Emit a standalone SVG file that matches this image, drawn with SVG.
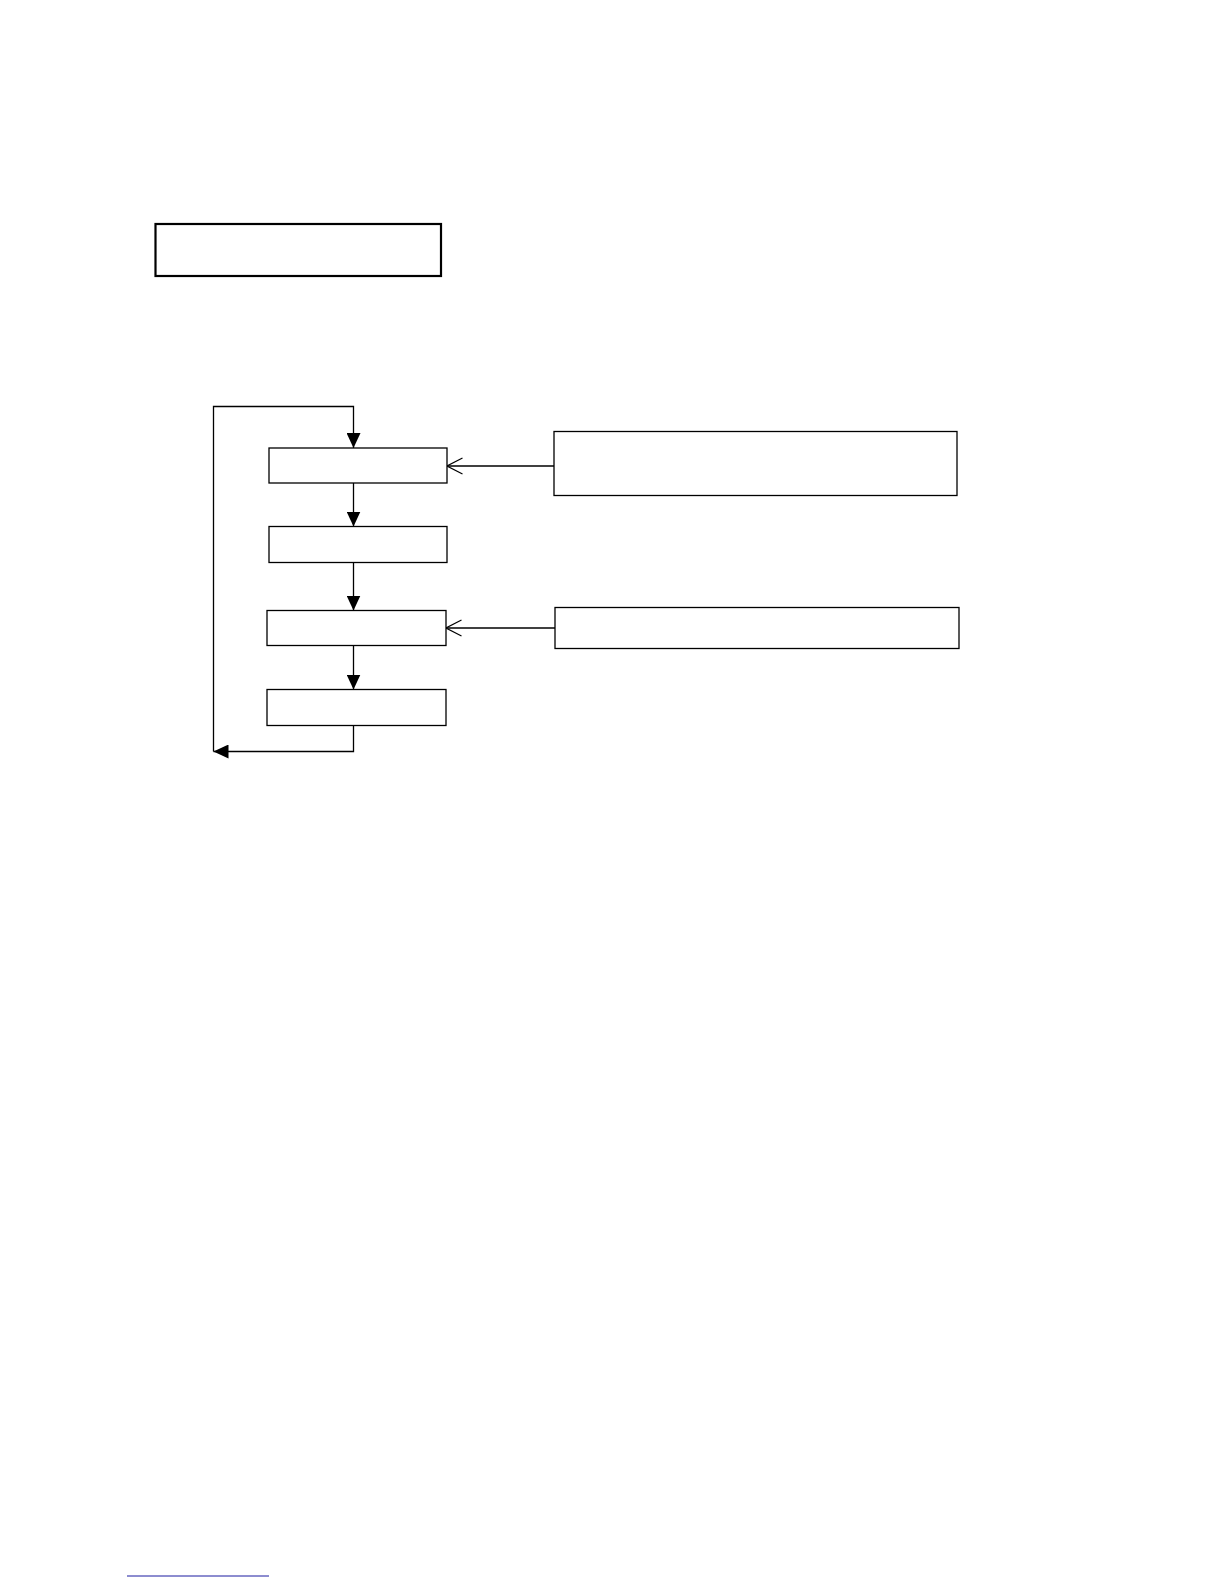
<svg xmlns="http://www.w3.org/2000/svg" width="1224" height="1584" viewBox="0 0 1224 1584">
<defs>
<marker id="fill" markerWidth="15" markerHeight="14" refX="15" refY="7" orient="auto" markerUnits="userSpaceOnUse">
<path d="M0,0 L15,7 L0,14 Z" fill="#000"/>
</marker>
<marker id="open" markerWidth="18" markerHeight="18" refX="16.5" refY="9" orient="auto" markerUnits="userSpaceOnUse">
<path d="M1,1 L16.5,9 L1,17" fill="none" stroke="#000" stroke-width="1.2"/>
</marker>
</defs>
<style>
.box{fill:#fff;stroke:#000;stroke-width:1.3}
.line{fill:none;stroke:#000;stroke-width:1.3}
</style>
<rect width="1224" height="1584" fill="#fff"/>
<g id="title"><rect x="155.5" y="224" width="285.5" height="52" fill="#fff" stroke="#000" stroke-width="2.2"/></g>
<g id="connectors">
<path class="line" d="M353.5,725.5 V751.5 H213.5" marker-end="url(#fill)"/>
<path class="line" d="M213.5,751.5 V406.5 H353.5 V448" marker-end="url(#fill)"/>
<path class="line" d="M353.5,483 V526.5" marker-end="url(#fill)"/>
<path class="line" d="M353.5,562.5 V610.5" marker-end="url(#fill)"/>
<path class="line" d="M353.5,645.5 V689.5" marker-end="url(#fill)"/>
<path class="line" d="M554,466 H447" marker-end="url(#open)"/>
<path class="line" d="M555,628 H446" marker-end="url(#open)"/>
</g>
<g id="step1"><rect class="box" x="269" y="448" width="178" height="35"/></g>
<g id="step2"><rect class="box" x="269" y="526.5" width="178" height="36"/></g>
<g id="step3"><rect class="box" x="267" y="610.5" width="179" height="35"/></g>
<g id="step4"><rect class="box" x="267" y="689.5" width="179" height="36"/></g>
<g id="inputA"><rect class="box" x="554" y="431.5" width="403" height="64"/></g>
<g id="inputB"><rect class="box" x="555" y="607.5" width="404" height="41"/></g>
<g id="footnote"><line x1="127" y1="1576" x2="269" y2="1576" stroke="#1a1aa0" stroke-width="1"/></g>
</svg>
